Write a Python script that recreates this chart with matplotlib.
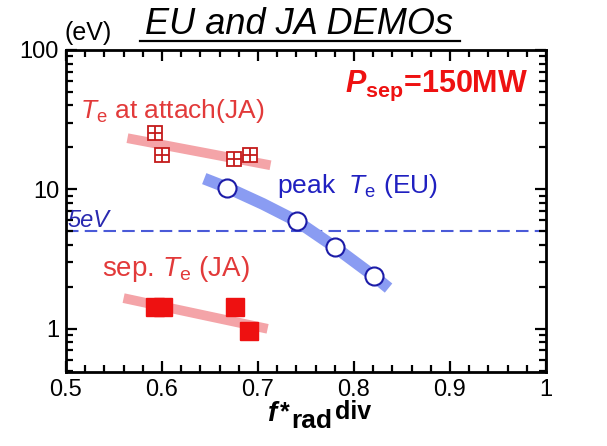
import numpy as np
import matplotlib.pyplot as plt
from matplotlib.ticker import MultipleLocator, LogLocator, NullFormatter, FixedLocator

plt.rcParams['font.family'] = ['Liberation Sans', 'DejaVu Sans']
plt.rcParams['mathtext.fontset'] = 'custom'
plt.rcParams['mathtext.rm'] = 'Liberation Sans'
plt.rcParams['mathtext.it'] = 'Liberation Sans:italic'
plt.rcParams['mathtext.bf'] = 'Liberation Sans:bold'
plt.rcParams['mathtext.bfit'] = 'Liberation Sans:bold:italic'

# JA: Te at attachment (open squares with cross)
ja_att_f = [0.593, 0.600, 0.675, 0.692]
ja_att_te = [25.3, 17.6, 16.4, 17.6]
ja_att_fit_f = [0.564, 0.713]
ja_att_fit_te = [23.3, 14.9]

# JA: separatrix Te (filled squares)
ja_sep_f = [0.593, 0.601, 0.676, 0.691]
ja_sep_te = [1.44, 1.44, 1.44, 0.96]
ja_sep_fit_f = [0.560, 0.710]
ja_sep_fit_te = [1.66, 1.00]

# EU: peak Te (open circles)
eu_f = [0.668, 0.741, 0.780, 0.821]
eu_te = [10.3, 5.89, 3.86, 2.38]
eu_fit_f = [0.644, 0.668, 0.705, 0.741, 0.780, 0.821, 0.836]
eu_fit_te = [11.95, 10.3, 7.87, 5.89, 3.86, 2.38, 1.96]

te_limit = 5.0

red = '#ee1111'
dark_red = '#c41a1a'
pink = '#f4a4a8'
blue_line = '#8a9cf2'
dark_blue = '#1c1ca8'

W, H = 607, 446
fig = plt.figure(figsize=(W / 100, H / 100), dpi=100)
ax = fig.add_axes([66 / W, 1 - 372 / H, 480 / W, 322 / H])

# trend lines
ax.plot(ja_att_fit_f, ja_att_fit_te, color=pink, lw=7, solid_capstyle='butt', zorder=2)
ax.plot(ja_sep_fit_f, ja_sep_fit_te, color=pink, lw=7, solid_capstyle='butt', zorder=2)
ax.plot(eu_fit_f, eu_fit_te, color=blue_line, lw=8.5, solid_capstyle='butt', zorder=2)

# 5 eV reference
ax.axhline(te_limit, color='#4a5ad8', lw=1.5, dashes=(6, 3), zorder=1)

# markers
ax.plot(ja_att_f, ja_att_te, ls='none', marker='s', ms=10, mfc='white', mec=dark_red, mew=1.3, zorder=4)
ax.plot(ja_att_f, ja_att_te, ls='none', marker='+', ms=10, mec=dark_red, mew=1.3, zorder=5)
ax.plot(ja_sep_f, ja_sep_te, ls='none', marker='s', ms=13, mfc=red, mec=red, zorder=4)
ax.plot(eu_f, eu_te, ls='none', marker='o', ms=13, mfc='white', mec=dark_blue, mew=1.5, zorder=4)

ax.set_yscale('log')
ax.set_xlim(0.5, 1.0)
ax.set_ylim(0.49, 100)

ax.xaxis.set_major_locator(FixedLocator([0.5, 0.6, 0.7, 0.8, 0.9, 1.0]))
ax.xaxis.set_minor_locator(MultipleLocator(0.02))
ax.set_xticklabels(['0.5', '0.6', '0.7', '0.8', '0.9', '1'])
ax.yaxis.set_minor_locator(LogLocator(base=10, subs=np.arange(2, 10), numticks=20))
ax.yaxis.set_minor_formatter(NullFormatter())
ax.set_yticks([1, 10, 100])
ax.set_yticklabels(['1', '10', '100'])

ax.tick_params(which='both', direction='in', top=True, right=True, width=1.6, labelsize=17)
ax.tick_params(which='major', length=8, pad=5)
ax.tick_params(which='minor', length=5)
for s in ax.spines.values():
    s.set_linewidth(2)

def px(x, y):
    return x / W, 1 - y / H

# x label: f*_rad^div built from pieces
fig.text(*px(268, 421), 'f', fontsize=20, fontweight='bold', style='italic')
fig.text(*px(280, 419), '*', fontsize=18, fontweight='bold')
fig.text(*px(291, 428), 'rad', fontsize=19, fontweight='bold')
fig.text(*px(335, 419), 'div', fontsize=18, fontweight='bold')

# title and units
fig.text(*px(65, 40), '(eV)', fontsize=18)
fig.text(*px(299, 34), 'EU and JA DEMOs', fontsize=26, style='italic', ha='center')
fig.add_artist(plt.Line2D([140 / W, 460 / W], [1 - 41 / H, 1 - 41 / H], color='black', lw=1.6))

# annotations
ax.text(0.9625, 0.870, r'$\mathbfit{P}_{\mathbf{sep}}$=150MW', transform=ax.transAxes, ha='right',
        va='baseline', fontsize=22, fontweight='bold', color=red)
ax.text(0.029, 0.789, r'$\mathit{T}_\mathrm{e}$ at attach(JA)', transform=ax.transAxes, fontsize=19,
        color='#e23a3a', va='baseline')
ax.text(0.44, 0.556, r'peak  $\mathit{T}_\mathrm{e}$ (EU)', transform=ax.transAxes, fontsize=19,
        color='#2020c0', va='baseline')
ax.text(0.003, 0.450, '5eV', transform=ax.transAxes, fontsize=17, style='italic', color='#2a2ab0',
        va='baseline')
ax.text(0.075, 0.298, r'sep. $\mathit{T}_\mathrm{e}$ (JA)', transform=ax.transAxes, fontsize=20,
        color='#e23a3a', va='baseline')

fig.savefig('out.png', dpi=100)
